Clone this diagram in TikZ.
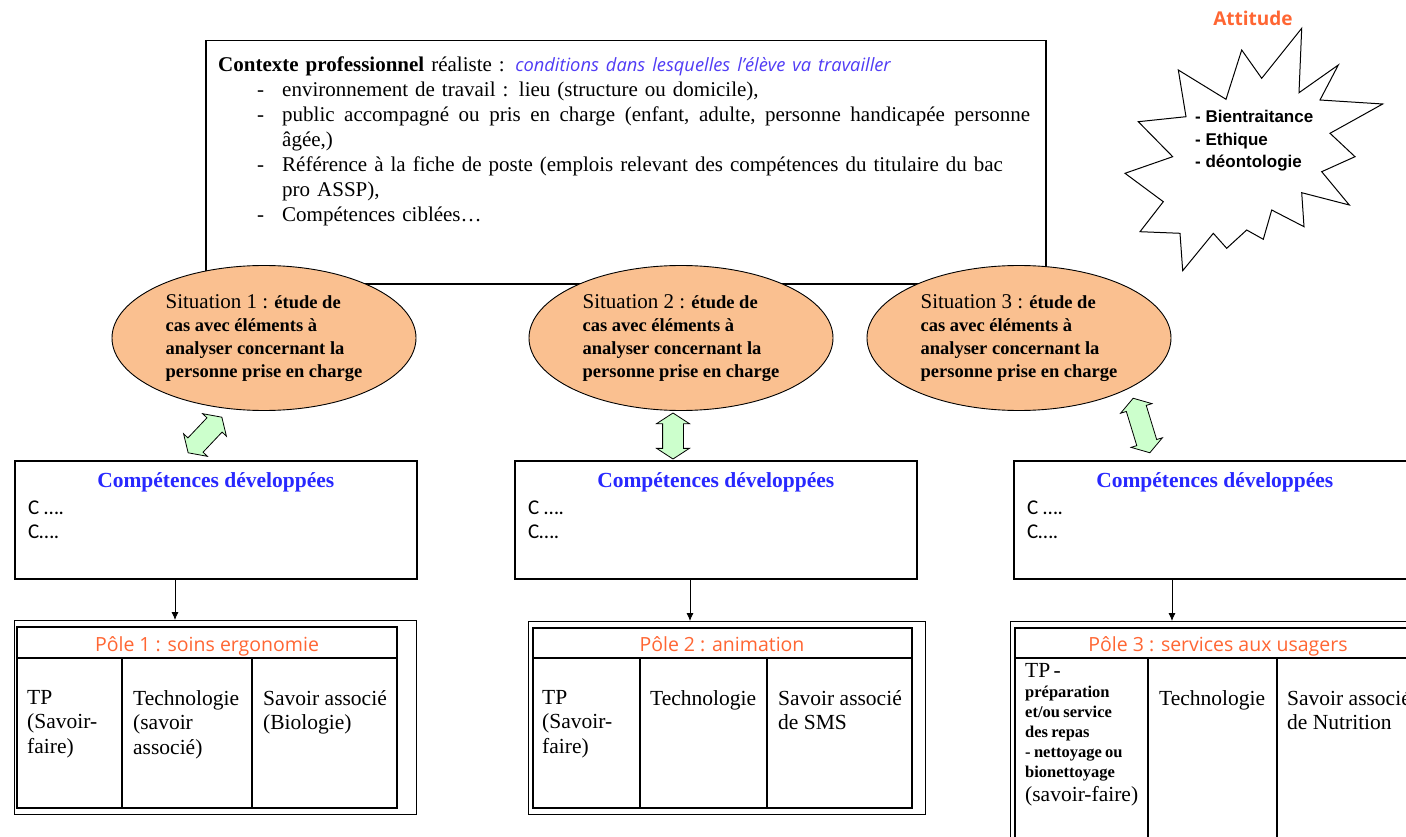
\documentclass[tikz,border=0pt]{standalone}
\usepackage{fontspec}
\setmainfont{Liberation Serif}
\newfontfamily\osans{Open Sans}
\newfontfamily\asans{Liberation Sans}
\newfontfamily\calib{Carlito}
\usetikzlibrary{shapes.geometric,shapes.arrows,arrows.meta}
\definecolor{peach}{RGB}{250,192,144}
\definecolor{lgreen}{RGB}{204,255,204}
\definecolor{orangetxt}{RGB}{255,102,51}
\definecolor{bluetxt}{RGB}{40,40,255}
\definecolor{bluei}{RGB}{80,60,245}
\newcommand\sitlabel[1]{{\mdseries\fontsize{21}{23}\selectfont Situation #1 :} étude de\\cas avec éléments à\\analyser concernant la\\personne prise en charge}
\newcommand\dashitem{\leavevmode\llap{-\hspace{18pt}}}
\begin{document}
\begin{tikzpicture}[x=1pt,y=-1pt,
  ctxbox/.style={draw, line width=1.5pt, minimum width=840pt, minimum height=243pt, anchor=north west, inner sep=0pt},
  ell/.style={ellipse, draw, line width=0.9pt, fill=peach, minimum width=304pt, minimum height=145pt, inner sep=0pt, align=left, font=\bfseries\fontsize{18.5}{23}\selectfont},
  garrow/.style={double arrow, draw, line width=0.8pt, fill=lgreen, double arrow head extend=6pt, double arrow tip angle=114, inner xsep=0pt, inner ysep=10pt},
  cbox/.style={draw, line width=1.6pt, minimum width=402pt, minimum height=118pt, anchor=north west, inner sep=0pt},
  ctitle/.style={font=\bfseries\fontsize{21.5}{24}\selectfont, text=bluetxt, inner sep=0pt, anchor=base},
  cline/.style={font=\calib\fontsize{21}{24}\selectfont, anchor=base west, inner sep=0pt},
  outer/.style={draw, line width=1.2pt, anchor=north west, inner sep=0pt},
  tline/.style={line width=1.5pt},
  ptitle/.style={font=\osans\fontsize{19.5}{22}\selectfont, text=orangetxt, inner sep=0pt, anchor=base},
  cell/.style={font=\fontsize{21.5}{24.5}\selectfont, anchor=north west, align=left, inner sep=0pt},
  down/.style={line width=0.8pt, -{Latex[length=8pt,width=7pt]}},
]
\clip (0,0) rectangle (1406,837);
\fill[white] (0,0) rectangle (1406,837);

% context box
\node[ctxbox] (ctx) at (205,40) {};
\node[anchor=north west, inner sep=0pt, text width=812pt, align=left, font=\fontsize{21}{25}\selectfont] (ctxt) at (218,57) {%
\parindent=0pt
\textbf{Contexte professionnel} réaliste : {\osans\itshape\fontsize{18.3}{25}\selectfont\color{bluei}conditions dans lesquelles l’élève va travailler}\par
\leftskip=64pt
\dashitem environnement de travail : lieu (structure ou domicile),\par
\dashitem\hbox to 748pt{public\hfil\ accompagné\hfil\ ou\hfil\ pris\hfil\ en\hfil\ charge\hfil\ (enfant,\hfil\ adulte,\hfil\ personne\hfil\ handicapée\hfil\ personne}\\âgée,)\par
\dashitem Référence à la fiche de poste (emplois relevant des compétences du titulaire du bac\\pro ASSP),\par
\dashitem Compétences ciblées…\par};

% attitude star
\draw[line width=1pt, fill=white] (1301.7,28.3) -- (1299,92.7) -- (1338.3,65) -- (1320,100) -- (1382.7,104) -- (1330,133.3) -- (1355,156.7) -- (1321.7,171.7) -- (1349.3,205) -- (1301.7,192.7) -- (1304,226.7) -- (1271.7,210) -- (1263.3,239.3) -- (1246.7,230) -- (1226.7,248.3) -- (1213.3,233.3) -- (1182.7,270.7) -- (1180,233.3) -- (1140,231.7) -- (1163.3,201.7) -- (1125,173.3) -- (1172.7,156.7) -- (1138.3,121.7) -- (1186,116.7) -- (1178.3,70) -- (1226,99.3) -- (1241.7,50) -- (1261.7,78.3) -- cycle;
\node[font=\osans\bfseries\fontsize{19}{22}\selectfont, text=orangetxt, anchor=base, inner sep=0pt] (att) at (1253,26) {Attitude};
\node[anchor=north west, align=left, inner sep=0pt, font=\asans\bfseries\fontsize{17}{22.5}\selectfont] (attl) at (1195,110) {- Bientraitance\\- Ethique\\- déontologie};

% situations
\node[ell] (s1) at (264,338) {\sitlabel{1}};
\node[ell] (s2) at (681,338) {\sitlabel{2}};
\node[ell] (s3) at (1019,338) {\sitlabel{3}};

% green double arrows
\node[garrow, minimum height=49pt, rotate=46.6] (g1) at (205,435) {};
\node[garrow, minimum height=46pt, rotate=90] (g2) at (673,436) {};
\node[garrow, minimum height=57pt, rotate=107] (g3) at (1141.5,425.5) {};

% competence boxes
\node[cbox] (c1) at (14,460) {};
\node[cbox] (c2) at (514,460) {};
\node[cbox] (c3) at (1013,460) {};
\foreach \b/\x in {c1/28,c2/528,c3/1027}{
  \node[ctitle] (\b t) at ([yshift=-27pt]\b.north) {Compétences développées};
  \node[cline] (\b a) at (\x,514) {C ….};
  \node[cline] (\b b) at (\x,538) {C….};
}

% tables
\node[outer, minimum width=402pt, minimum height=194pt] (t1) at (14,620) {};
\draw[tline] (17,627) rectangle (397,808);
\draw[tline] (17,658) -- (397,658) (122,658) -- (122,808) (252,658) -- (252,808);
\node[ptitle] (p1) at (207,651) {Pôle 1 : soins ergonomie};
\node[cell] (t1a) at (27,690) {TP\\(Savoir-\\faire)};
\node[cell] (t1b) at (133,690) {Technologie\\(savoir\\associé)};
\node[cell] (t1c) at (263,690) {Savoir associé\\(Biologie)};

\node[outer, minimum width=397pt, minimum height=193pt] (t2) at (528,621) {};
\draw[tline] (533,628) rectangle (912,808);
\draw[tline] (533,658) -- (912,658) (640,658) -- (640,808) (767,658) -- (767,808);
\node[ptitle] (p2) at (722,651) {Pôle 2 : animation};
\node[cell] (t2a) at (542,690) {TP\\(Savoir-\\faire)};
\node[cell] (t2b) at (650,690) {Technologie};
\node[cell] (t2c) at (778,690) {Savoir associé\\de SMS};

\node[outer, minimum width=420pt, minimum height=240pt] (t3) at (1010,621) {};
\draw[tline] (1015,628) rectangle (1430,850);
\draw[tline] (1015,658) -- (1430,658) (1148,658) -- (1148,850) (1277,658) -- (1277,850);
\node[ptitle] (p3) at (1218,651) {Pôle 3 : services aux usagers};
\node[anchor=north west, inner sep=0pt, text width=125pt, align=left] (t3a) at (1025,663) {%
{\fontsize{21.5}{24}\selectfont TP -\par}
{\bfseries\fontsize{16.5}{20}\selectfont préparation\\et/ou service\\des repas\\- nettoyage ou\\bionettoyage\par}
{\fontsize{21.5}{24}\selectfont (savoir-faire)\par}};
\node[cell] (t3b) at (1159,690) {Technologie};
\node[cell] (t3c) at (1287,690) {Savoir associé\\de Nutrition};

% downward arrows
\coordinate (a1) at (175,0);
\coordinate (a2) at (690,0);
\coordinate (a3) at (1172,0);
\draw[down] (c1.south -| a1) -- (t1.north -| a1);
\draw[down] (c2.south -| a2) -- (t2.north -| a2);
\draw[down] (c3.south -| a3) -- (t3.north -| a3);
\end{tikzpicture}
\end{document}
